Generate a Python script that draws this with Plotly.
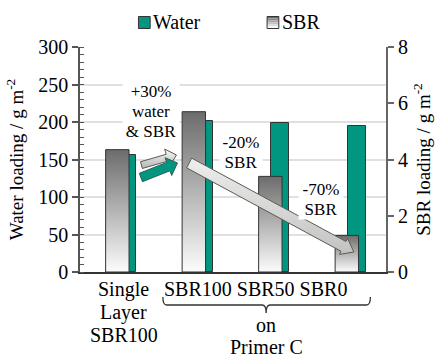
import math
import plotly.graph_objects as go

# ---- data -------------------------------------------------------------
categories = ["Single Layer SBR100", "SBR100", "SBR50", "SBR0"]
water = [156, 201, 199, 195]          # water loading, g m-2 (left axis)
sbr = [4.35, 5.7, 3.4, 1.3]           # SBR loading, g m-2 (right axis)
group_label = ["on", "Primer C"]
change_labels = [["+30%", "water", "& SBR"], ["-20%", "SBR"], ["-70%", "SBR"]]
water_ticks = [0, 50, 100, 150, 200, 250, 300]
sbr_ticks = [0, 2, 4, 6, 8]

# ---- layout constants -------------------------------------------------
W, H = 443, 356
M = dict(l=80, r=49, t=47, b=84, pad=0)
PLOT_W = W - M["l"] - M["r"]
PLOT_H = H - M["t"] - M["b"]
X_RANGE = [-0.5, 3.5]
Y_RANGE = [0, 300]
Y2_RANGE = [0, 8]

FONT = "'Liberation Serif', 'Times New Roman', Times, serif"
TEAL = "#00967f"
EDGE = "#333333"
GRAY_TOP = "#6c6c6c"
GRAY_BOTTOM = "#fcfcfc"
ARROW_EDGE = "#5c5c4c"
GRID = "#e0e0e0"

SBR_LEFT, SBR_WIDTH = -0.165, 0.306
WATER_LEFT, WATER_WIDTH = 0.0, 0.237

x_pos = list(range(len(categories)))

PX_PER_X = PLOT_W / (X_RANGE[1] - X_RANGE[0])
PX_PER_Y = PLOT_H / (Y_RANGE[1] - Y_RANGE[0])
PX_PER_Y2 = PLOT_H / (Y2_RANGE[1] - Y2_RANGE[0])


def paper_x(x):
    return (x - X_RANGE[0]) / (X_RANGE[1] - X_RANGE[0])


def paper_y_px(py):
    """Paper y for a pixel row measured from the top of the page."""
    return (H - M["b"] - py) / PLOT_H


def block_arrow(tail, tip, shaft, head_w, head_len):
    """Closed outline of a block arrow; tail/tip given in (x, y2) units,
    widths in pixels so the arrow keeps its shape on the page."""
    tx, ty = tail[0] * PX_PER_X, -tail[1] * PX_PER_Y2
    hx, hy = tip[0] * PX_PER_X, -tip[1] * PX_PER_Y2
    dx, dy = hx - tx, hy - ty
    L = math.hypot(dx, dy)
    ux, uy = dx / L, dy / L
    nx, ny = -uy, ux
    bx, by = hx - ux * head_len, hy - uy * head_len
    pts = [
        (tx + nx * shaft, ty + ny * shaft),
        (bx + nx * shaft, by + ny * shaft),
        (bx + nx * head_w, by + ny * head_w),
        (hx, hy),
        (bx - nx * head_w, by - ny * head_w),
        (bx - nx * shaft, by - ny * shaft),
        (tx - nx * shaft, ty - ny * shaft),
    ]
    pts.append(pts[0])
    xs = [p[0] / PX_PER_X for p in pts]
    ys = [-p[1] / PX_PER_Y2 for p in pts]
    return xs, ys


def mix(c0, c1, t):
    a = [int(c0[i:i + 2], 16) for i in (1, 3, 5)]
    b = [int(c1[i:i + 2], 16) for i in (1, 3, 5)]
    return "#%02x%02x%02x" % tuple(round(a[k] + (b[k] - a[k]) * t) for k in range(3))


fig = go.Figure()

# water bars (left axis), partly hidden behind the SBR bars
fig.add_trace(go.Bar(
    x=x_pos, y=water, name="Water", width=WATER_WIDTH, offset=WATER_LEFT,
    marker=dict(color=TEAL, line=dict(color=EDGE, width=1)),
    showlegend=False, hoverinfo="skip",
))

# SBR bars (right axis) with a vertical grey gradient
for i, v in enumerate(sbr):
    x0 = x_pos[i] + SBR_LEFT
    x1 = x0 + SBR_WIDTH
    fig.add_trace(go.Scatter(
        x=[x0, x0, x1, x1, x0], y=[0, v, v, 0, 0], yaxis="y2",
        mode="lines", fill="toself",
        fillgradient=dict(type="vertical",
                          colorscale=[[0, GRAY_BOTTOM], [1, GRAY_TOP]],
                          start=0, stop=v),
        line=dict(color=EDGE, width=1),
        name="SBR", showlegend=False, hoverinfo="skip",
    ))

# change arrows
ax, ay = block_arrow((0.303, 3.80), (0.761, 4.16), 3.5, 9, 10)
fig.add_trace(go.Scatter(
    x=ax, y=ay, yaxis="y2", mode="lines", fill="toself",
    fillgradient=dict(type="vertical", colorscale=[[0, "#b4b4b4"], [1, "#fafafa"]]),
    line=dict(color=ARROW_EDGE, width=1), showlegend=False, hoverinfo="skip",
))
ax, ay = block_arrow((0.296, 3.36), (0.774, 3.876), 4.5, 9.5, 10)
fig.add_trace(go.Scatter(
    x=ax, y=ay, yaxis="y2", mode="lines", fill="toself", fillcolor=TEAL,
    line=dict(color="#2f5f55", width=1), showlegend=False, hoverinfo="skip",
))
ax, ay = block_arrow((0.927, 3.876), (3.08, 0.711), 5.5, 9, 12)
fig.add_trace(go.Scatter(
    x=ax, y=ay, yaxis="y2", mode="lines", fill="toself",
    fillgradient=dict(type="vertical", colorscale=[[0, "#c2c2c2"], [1, "#eeeeee"]]),
    line=dict(color=ARROW_EDGE, width=1), showlegend=False, hoverinfo="skip",
))

annotations = []
shapes = []

# in-plot change labels (x in category units, y in left-axis units)
LINE_PX = 20
blocks = [
    (change_labels[0], 0.4236, 240.7, 56),
    (change_labels[1], 1.602, 174.0, 42),
    (change_labels[2], 2.653, 110.7, 44),
]
for lines, x, y0, wbox in blocks:
    for k, txt in enumerate(lines):
        annotations.append(dict(
            x=x, y=y0 - k * LINE_PX / PX_PER_Y, xref="x", yref="y",
            text=txt, showarrow=False, bgcolor="white", width=wbox, height=LINE_PX,
            borderpad=0, font=dict(family=FONT, size=17, color="black"),
            xanchor="center", yanchor="middle",
        ))

# category labels under the axis
first = categories[0].split(" ")
for k, txt in enumerate(first):
    annotations.append(dict(
        x=0.073, y=paper_y_px(289 + 23 * k), xref="x", yref="paper",
        text=txt, showarrow=False, font=dict(family=FONT, size=20, color="black"),
        xanchor="center", yanchor="middle",
    ))
annotations.append(dict(
    x=1.793, y=paper_y_px(289), xref="x", yref="paper",
    text=" ".join(categories[1:]), showarrow=False,
    font=dict(family=FONT, size=20, color="black"),
    xanchor="center", yanchor="middle",
))
for k, txt in enumerate(group_label):
    annotations.append(dict(
        x=1.933, y=paper_y_px(325 + 22 * k), xref="x", yref="paper",
        text=txt, showarrow=False, font=dict(family=FONT, size=20, color="black"),
        xanchor="center", yanchor="middle",
    ))

# brace grouping the three primer samples
bx0, bx1, bxm = paper_x(0.583), paper_x(3.296), paper_x(1.933)
yt, yb, ym = paper_y_px(297), paper_y_px(305), paper_y_px(313)
ddx = 4 / PLOT_W
brace = (f"M {bx0},{yt} Q {bx0},{yb} {bx0 + ddx},{yb} L {bxm - ddx},{yb} "
         f"Q {bxm},{yb} {bxm},{ym} Q {bxm},{yb} {bxm + ddx},{yb} "
         f"L {bx1 - ddx},{yb} Q {bx1},{yb} {bx1},{yt}")
shapes.append(dict(type="path", path=brace, xref="paper", yref="paper",
                   line=dict(color="#333333", width=1.3)))

# legend: swatches + names
def swatch(px0, colors):
    x0, x1 = (px0 - M["l"]) / PLOT_W, (px0 + 12 - M["l"]) / PLOT_W
    n = len(colors)
    for j, c in enumerate(colors):
        shapes.append(dict(type="rect", xref="paper", yref="paper",
                           x0=x0, x1=x1,
                           y0=paper_y_px(16.5 + 12 * (j + 1) / n),
                           y1=paper_y_px(16.5 + 12 * j / n),
                           fillcolor=c, line=dict(width=0)))
    shapes.append(dict(type="rect", xref="paper", yref="paper", x0=x0, x1=x1,
                       y0=paper_y_px(28.5), y1=paper_y_px(16.5),
                       line=dict(color=EDGE, width=1)))


swatch(140, [TEAL])
swatch(272, [mix(GRAY_TOP, GRAY_BOTTOM, t / 5) for t in range(6)])
for px, name in [(153, "Water"), (285, "SBR")]:
    annotations.append(dict(
        x=(px - M["l"]) / PLOT_W, y=paper_y_px(22), xref="paper", yref="paper",
        text=name, showarrow=False, font=dict(family=FONT, size=20, color="black"),
        xanchor="left", yanchor="middle",
    ))

fig.update_layout(
    width=W, height=H, margin=M,
    paper_bgcolor="white", plot_bgcolor="white",
    font=dict(family=FONT, size=20, color="black"),
    showlegend=False, bargap=0,
    xaxis=dict(range=X_RANGE, showticklabels=False, ticks="", showgrid=False,
               zeroline=False, showline=True, linecolor="#333333", linewidth=2),
    yaxis=dict(range=Y_RANGE, tickvals=water_ticks, ticks="outside", ticklen=6,
               tickwidth=1.5, tickcolor="#555555", showline=True,
               linecolor="#555555", linewidth=1.5, showgrid=True,
               gridcolor=GRID, gridwidth=2, zeroline=False,
               minor=dict(dtick=10, ticks="inside", ticklen=4, tickcolor="#555555",
                          tickwidth=1, showgrid=False),
               tickfont=dict(family=FONT, size=20),
               title=dict(text="Water loading / g m<sup>-2</sup>", standoff=10,
                          font=dict(family=FONT, size=19))),
    yaxis2=dict(range=Y2_RANGE, tickvals=sbr_ticks, overlaying="y", side="right",
                ticks="outside", ticklen=6, tickwidth=1.5, tickcolor="#666666",
                showline=True, linecolor="#666666", linewidth=2, showgrid=False,
                zeroline=False, tickfont=dict(family=FONT, size=20),
                title=dict(text="SBR loading / g m<sup>-2</sup>", standoff=10,
                           font=dict(family=FONT, size=19))),
    annotations=annotations, shapes=shapes,
)

fig.write_html("out.html")
